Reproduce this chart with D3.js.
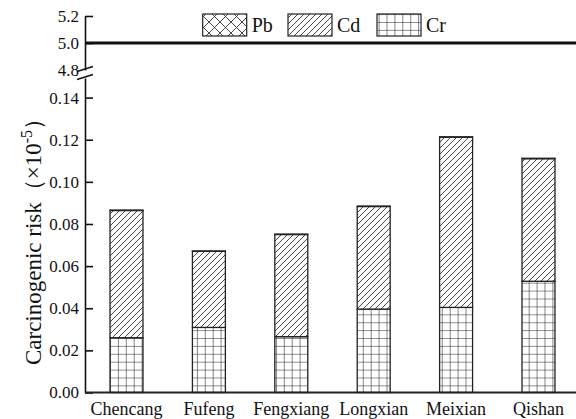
<!DOCTYPE html>
<html>
<head>
<meta charset="utf-8">
<script src="https://cdn.jsdelivr.net/npm/d3@7/dist/d3.min.js"></script>
<style>
html,body{margin:0;padding:0;background:#fff;}
svg{display:block;}
text{font-family:"Liberation Serif","Times New Roman",serif;fill:#111;}
</style>
</head>
<body>
<svg id="chart" width="576" height="419"></svg>
<script>
const categories = ["Chencang","Fufeng","Fengxiang","Longxian","Meixian","Qishan"];
const seriesNames = ["Cr","Cd","Pb"];
const crValues = [0.0260,0.0309,0.0265,0.0396,0.0404,0.0528];
const cdValues = [0.0604,0.0361,0.0485,0.0487,0.0808,0.0582];
const pbValues = [0.0002,0.0002,0.0002,0.0002,0.0002,0.0002];
const lowerTicks = [0.00,0.02,0.04,0.06,0.08,0.10,0.12,0.14];
const upperTicks = [4.8,5.0,5.2];
const thresholdValue = 5.0;

const svg = d3.select("#chart");
const axisX = 85;

// patterns
const defs = svg.append("defs");
const pCd = defs.append("pattern").attr("id","pCd").attr("patternUnits","userSpaceOnUse")
  .attr("width",6).attr("height",6);
pCd.append("rect").attr("width",6).attr("height",6).attr("fill","#fff");
pCd.append("path").attr("d","M-1,7 L7,-1 M-4,4 L4,-4 M2,10 L10,2").attr("stroke","#333").attr("stroke-width",0.9);

const pCr = defs.append("pattern").attr("id","pCr").attr("patternUnits","userSpaceOnUse")
  .attr("width",7.9).attr("height",7.9).attr("x",110).attr("y",338);
pCr.append("rect").attr("width",7.9).attr("height",7.9).attr("fill","#fff");
pCr.append("path").attr("d","M0,0 L7.9,0 M0,0 L0,7.9").attr("stroke","#222").attr("stroke-width",1.1);

const pPb = defs.append("pattern").attr("id","pPb").attr("patternUnits","userSpaceOnUse")
  .attr("width",11).attr("height",11);
pPb.append("rect").attr("width",11).attr("height",11).attr("fill","#fff");
pPb.append("path").attr("d","M0,0 L11,11 M11,0 L0,11").attr("stroke","#333").attr("stroke-width",0.9);

const fills = {Cr:"url(#pCr)", Cd:"url(#pCd)", Pb:"url(#pPb)"};

// scales
const x = d3.scaleBand().domain(categories).range([85.3,579.7]).paddingInner(0.6).paddingOuter(0.3);
const yLow = d3.scaleLinear().domain([0,0.1493]).range([392.5,78]);
const yUp = d3.scaleLinear().domain([4.8,5.2]).range([70,16]);

// data stack
const rows = categories.map((c,i)=>({cat:c, Cr:crValues[i], Cd:cdValues[i], Pb:pbValues[i]}));
const stack = d3.stack().keys(seriesNames)(rows);

const g = svg.append("g");
stack.forEach(layer=>{
  g.selectAll(null).data(layer).enter().append("rect")
    .attr("x",d=>x(d.data.cat))
    .attr("width",x.bandwidth())
    .attr("y",d=>yLow(d[1]))
    .attr("height",d=>yLow(d[0])-yLow(d[1]))
    .attr("fill",fills[layer.key])
    .attr("stroke","#222").attr("stroke-width",1.3);
});

// lower y axis
const axL = svg.append("g").attr("transform",`translate(${axisX},0)`)
  .call(d3.axisRight(yLow).tickValues(lowerTicks).tickFormat(d3.format(".2f")).tickSize(8).tickSizeOuter(0));
axL.select(".domain").attr("stroke","#111").attr("stroke-width",1.6);
axL.selectAll(".tick line").attr("stroke","#111").attr("stroke-width",1.6);
axL.selectAll(".tick text").attr("x",-6).attr("text-anchor","end").attr("font-size",17).attr("fill","#111");

// upper y axis
const axU = svg.append("g").attr("transform",`translate(${axisX},0)`)
  .call(d3.axisRight(yUp).tickValues(upperTicks).tickFormat(d3.format(".1f")).tickSize(8).tickSizeOuter(0));
axU.select(".domain").attr("stroke","#111").attr("stroke-width",1.6);
axU.selectAll(".tick line").attr("stroke","#111").attr("stroke-width",1.6)
  .attr("display",d=>d===4.8?"none":null);
axU.selectAll(".tick text").attr("x",-6).attr("text-anchor","end").attr("font-size",17).attr("fill","#111");

// break marks
const brk = svg.append("g");
[0,8].forEach(off=>{
  brk.append("line").attr("x1",axisX-8).attr("y1",71.5+off).attr("x2",axisX+8).attr("y2",66.5+off)
    .attr("stroke","#111").attr("stroke-width",1.6);
});

// threshold line
svg.append("line").attr("x1",axisX).attr("x2",576).attr("y1",yUp(thresholdValue)).attr("y2",yUp(thresholdValue))
  .attr("stroke","#111").attr("stroke-width",3);

// x axis
const axB = svg.append("g").attr("transform","translate(0,392.5)")
  .call(d3.axisBottom(x).tickSize(0).tickSizeOuter(0));
axB.select(".domain").attr("d","M"+axisX+",0H576").attr("stroke","#222").attr("stroke-width",2.2);
axB.selectAll(".tick text").attr("y",10).attr("dy","0.71em").attr("font-size",18).attr("fill","#111");

// y label
const yl = svg.append("text").attr("transform","translate(41,236) rotate(-90)")
  .attr("text-anchor","middle").attr("font-size",23);
yl.append("tspan").text("Carcinogenic risk（×10");
yl.append("tspan").attr("dy",-9).attr("font-size",16).text("-5");
yl.append("tspan").attr("dy",9).text("）");

// legend
const legendItems = [{k:"Pb",x:202.7},{k:"Cd",x:288},{k:"Cr",x:377}];
const lg = svg.append("g");
legendItems.forEach(it=>{
  lg.append("rect").attr("x",it.x).attr("y",14).attr("width",44).attr("height",22)
    .attr("fill",fills[it.k]).attr("stroke","#222").attr("stroke-width",1.2);
  lg.append("text").attr("x",it.x+49).attr("y",32).attr("font-size",20).text(it.k);
});
</script>
</body>
</html>
